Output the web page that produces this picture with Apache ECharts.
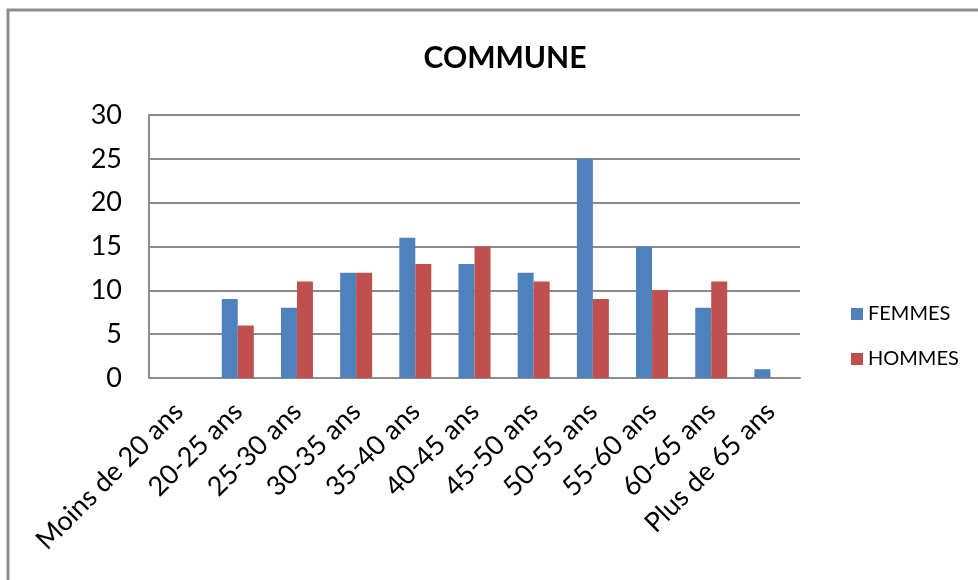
<!DOCTYPE html>
<html>
<head>
<meta charset="utf-8">
<style>
  html, body { margin: 0; padding: 0; background: #fff; }
  #chart { width: 978px; height: 580px; }
</style>
<script src="https://cdn.jsdelivr.net/npm/echarts@6/dist/echarts.min.js"></script>
</head>
<body>
<div id="chart"></div>
<script>
// Age brackets and head counts per sex
const categories = [
  'Moins de 20 ans', '20-25 ans', '25-30 ans', '30-35 ans', '35-40 ans',
  '40-45 ans', '45-50 ans', '50-55 ans', '55-60 ans', '60-65 ans', 'Plus de 65 ans'
];
const femmes = [0, 9, 8, 12, 16, 13, 12, 25, 15, 8, 1];
const hommes = [0, 6, 11, 12, 13, 15, 11, 9, 10, 11, 0];
const yTicks = [0, 5, 10, 15, 20, 25, 30];

const FONT = 'Lato, "Open Sans", sans-serif';
const chart = echarts.init(document.getElementById('chart'));

chart.setOption({
  backgroundColor: '#ffffff',
  animation: false,
  textStyle: { fontFamily: FONT },
  title: {
    text: 'COMMUNE',
    left: 500,
    top: 38,
    textAlign: 'center',
    textStyle: { fontFamily: FONT, fontSize: 30, fontWeight: 'bold', color: '#000' }
  },
  graphic: [{
    type: 'rect',
    shape: { x: 8, y: 10, width: 1000, height: 600 },
    style: { fill: 'none', stroke: '#8c8c8c', lineWidth: 3 },
    silent: true
  }],
  legend: {
    orient: 'vertical',
    left: 846,
    top: 299,
    itemWidth: 12,
    itemHeight: 12,
    itemGap: 25,
    icon: 'rect',
    textStyle: { fontFamily: FONT, fontSize: 20, color: '#000' },
    data: ['FEMMES', 'HOMMES']
  },
  grid: { left: 149, right: 178, top: 115, bottom: 202, containLabel: false },
  xAxis: {
    type: 'category',
    data: categories,
    axisLine: { show: true, lineStyle: { color: '#8c8c8c', width: 2 } },
    axisTick: { show: false },
    axisLabel: {
      interval: 0,
      rotate: 45,
      margin: 29,
      fontFamily: FONT,
      fontSize: 27,
      color: '#000'
    }
  },
  yAxis: {
    type: 'value',
    min: 0,
    max: 30,
    interval: 5,
    axisLine: { show: true, lineStyle: { color: '#8c8c8c', width: 2 } },
    axisTick: { show: false },
    axisLabel: {
      margin: 27,
      fontFamily: FONT,
      fontSize: 27,
      color: '#000',
      formatter: v => (yTicks.includes(v) ? String(v) : '')
    },
    splitLine: { show: true, lineStyle: { color: '#8c8c8c', width: 2 } }
  },
  series: [
    {
      name: 'FEMMES',
      type: 'bar',
      data: femmes,
      barWidth: 16,
      barGap: '0%',
      itemStyle: { color: '#4F81BD' }
    },
    {
      name: 'HOMMES',
      type: 'bar',
      data: hommes,
      barWidth: 16,
      barGap: '0%',
      itemStyle: { color: '#C0504D' }
    }
  ]
});
</script>
</body>
</html>
